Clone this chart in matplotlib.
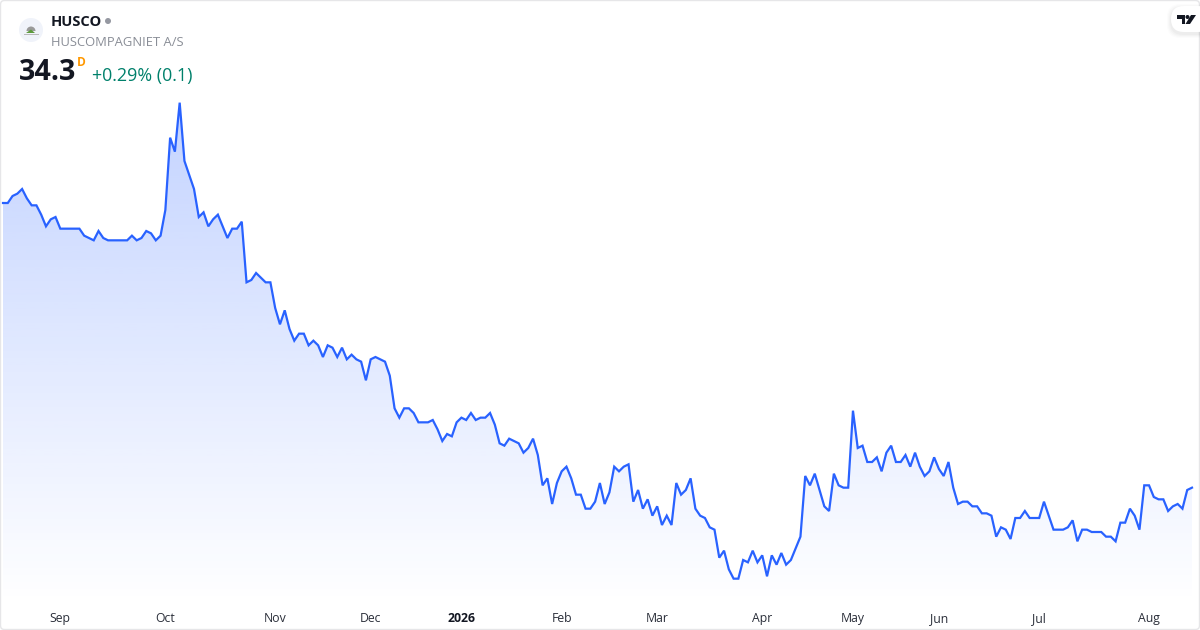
import matplotlib
matplotlib.use('Agg')
import matplotlib.pyplot as plt
import matplotlib.patches as patches
import numpy as np

plt.rcParams['font.family'] = ['Open Sans', 'Noto Sans', 'DejaVu Sans']

# closing prices
prices_sep_oct = [46.5, 46.5, 46.8, 46.9, 47.1, 46.7, 46.4, 46.4, 46.0, 45.5, 45.8, 45.9,
                  45.4, 45.4, 45.4, 45.4, 45.4, 45.1, 45.0, 44.9, 45.3, 45.0, 44.9, 44.9,
                  44.9, 44.9, 44.9, 45.1, 44.9, 45.0, 45.3, 45.2, 44.9, 45.1, 46.2, 49.3,
                  48.7, 50.8, 48.3, 47.7, 47.1, 45.9, 46.1, 45.5, 45.8, 46.0, 45.5, 45.0,
                  45.4, 45.4, 45.7]
prices_nov_feb = [43.1, 43.2, 43.5, 43.3, 43.1, 43.1, 42.0, 41.3, 41.9, 41.1, 40.6, 40.9,
                  40.9, 40.4, 40.6, 40.4, 39.9, 40.4, 40.3, 39.9, 40.3, 39.8, 40.0, 39.8,
                  39.7, 38.9, 39.8, 39.9, 39.8, 39.7, 39.1, 37.7, 37.3, 37.7, 37.7, 37.5,
                  37.1, 37.1, 37.1, 37.2, 36.8, 36.3, 36.6, 36.5, 37.1, 37.3, 37.2, 37.5,
                  37.2, 37.3, 37.3, 37.5, 37.0, 36.2, 36.1, 36.4, 36.3, 36.2, 35.8, 36.0,
                  36.4, 35.7, 34.4, 34.7, 33.6, 34.5, 35.0, 35.2, 34.7, 34.0, 34.0, 33.4,
                  33.4, 33.7, 34.5, 33.6, 34.1, 35.2, 35.0]
prices_feb_may = [35.2, 35.3, 33.7, 34.2, 33.4, 33.8, 33.1, 33.5, 32.7, 33.1, 32.7, 34.5,
                  34.0, 34.2, 34.7, 33.4, 33.1, 33.0, 32.6, 32.5, 31.3, 31.6, 30.8, 30.4,
                  30.4, 31.2, 31.1, 31.6, 31.1, 31.4, 30.5, 31.4, 31.0, 31.5, 31.0, 31.2,
                  31.7, 32.2, 34.8, 34.4, 34.9, 34.2, 33.5, 33.3, 34.9, 34.4, 34.3, 34.3,
                  37.6, 36.0, 36.1, 35.4, 35.4, 35.6, 35.0, 35.8, 36.1, 35.4, 35.4]
prices_may_aug = [35.7, 35.2, 35.8, 35.2, 34.8, 35.0, 35.6, 35.1, 34.8, 35.4, 34.3, 33.6,
                  33.7, 33.7, 33.5, 33.5, 33.2, 33.2, 33.1, 32.2, 32.6, 32.5, 32.1, 33.0,
                  33.0, 33.3, 33.0, 33.0, 33.0, 33.7, 33.1, 32.5, 32.5, 32.5, 32.6, 32.9,
                  32.0, 32.5, 32.5, 32.4, 32.4, 32.4, 32.2, 32.2, 32.0, 32.8, 32.8, 33.4,
                  33.1, 32.5, 34.4, 34.4, 33.9, 33.8, 33.8, 33.3, 33.5, 33.6, 33.4, 34.2,
                  34.3]
prices = prices_sep_oct + prices_nov_feb + prices_feb_may + prices_may_aug

month_labels = ['Sep', 'Oct', 'Nov', 'Dec', '2026', 'Feb', 'Mar', 'Apr', 'May', 'Jun', 'Jul', 'Aug']
month_pos = [12, 34, 57, 77, 96, 117, 137, 159, 178, 196, 217, 240]

W, H = 1200, 630
x = np.arange(len(prices))

fig = plt.figure(figsize=(W / 100, H / 100), dpi=100, facecolor='white')

# price pane covers the whole canvas, limits line the prices up with the pixels
ax = fig.add_axes([0, 0, 1, 1])
x0, x1 = 3, 1192
sx = (x1 - x0) / (len(prices) - 1)
ax.axis('off')

# gradient under the line
base = 29.3
poly = np.column_stack([np.r_[x[0], x, x[-1]], np.r_[base, prices, base]])
grad = np.zeros((256, 1, 4))
grad[..., :3] = np.array([41, 98, 255]) / 255
grad[..., 3] = np.linspace(0.28, 0.0, 256)[:, None]
im = ax.imshow(grad, aspect='auto', origin='upper', zorder=1,
               extent=[x[0], x[-1], base, max(prices)])
ax.set_xlim(-x0 / sx, (W - x0) / sx)
ax.set_ylim(28.2, 55.2)
clip = patches.Polygon(poly, closed=True, transform=ax.transData, fc='none', ec='none')
ax.add_patch(clip)
im.set_clip_path(clip)

ax.plot(x, prices, color='#2962FF', lw=1.6, zorder=2, solid_joinstyle='miter')

# overlay in pixel coordinates for header, logo and frame
ov = fig.add_axes([0, 0, 1, 1], facecolor='none')
ov.set_xlim(0, W)
ov.set_ylim(H, 0)
ov.axis('off')

ov.add_patch(patches.FancyBboxPatch((0.5, 0.5), W - 1, H - 1, boxstyle='round,pad=0,rounding_size=4',
                                    fc='none', ec='#E6E6E8', lw=1))

# month labels along the bottom
for pos, lab in zip(month_pos, month_labels):
    ov.text(x0 + pos * sx, 618.5, lab, ha='center', va='center', fontsize=8.8,
            color='#131722' if lab == '2026' else '#2A2E39',
            fontweight='bold' if lab == '2026' else 'normal')

# logo
ov.add_patch(patches.Circle((31, 30), 12, fc='#F0F3FA', ec='none'))
ov.add_patch(patches.Wedge((31, 31), 4.5, 180, 360, fc='#9A9A9A', ec='none'))
ov.add_patch(patches.Polygon([(26, 33), (31, 29.5), (35, 33)], fc='#5C9A3C', ec='none'))
ov.plot([24, 38], [33.5, 33.5], color='#B8B8B8', lw=0.7)

# header
ov.text(51, 22, 'HUSCO', fontsize=10.5, fontweight='bold', color='#131722', va='center', ha='left')
ov.add_patch(patches.Circle((108, 21), 3, fc='#9598A1', ec='none'))
ov.text(51, 42, 'HUSCOMPAGNIET A/S', fontsize=9.35, color='#8A8E97', va='center', ha='left')
ov.text(19, 73, '34.3', fontsize=20.7, fontweight='bold', color='#131722', va='center', ha='left')
ov.text(77, 62, 'D', fontsize=8.6, fontweight='bold', color='#FF9800', va='center', ha='left')
ov.text(92, 76, '+0.29% (0.1)', fontsize=12.9, color='#00806B', va='center', ha='left')

# TradingView badge
for off, a in [(4, 0.012), (3, 0.015), (2, 0.02), (1, 0.025)]:
    ov.add_patch(patches.FancyBboxPatch((1171 - off, 6 - off + 2), 40 + 2 * off, 26 + 2 * off,
                                        boxstyle='round,pad=0,rounding_size=13', fc='black', ec='none', alpha=a))
ov.add_patch(patches.FancyBboxPatch((1171, 6), 40, 26, boxstyle='round,pad=0,rounding_size=13', fc='white', ec='none'))
ov.add_patch(patches.Polygon([(1177, 15), (1185, 15), (1185, 24), (1181.5, 24), (1181.5, 19), (1177, 19)], fc='#131722', ec='none'))
ov.add_patch(patches.Circle((1187.5, 17), 2, fc='#131722', ec='none'))
ov.add_patch(patches.Polygon([(1191, 15), (1196, 15), (1190, 24), (1185.5, 24)], fc='#131722', ec='none'))
ov.set_xlim(0, W)
ov.set_ylim(H, 0)

fig.savefig('out.png', dpi=100)
